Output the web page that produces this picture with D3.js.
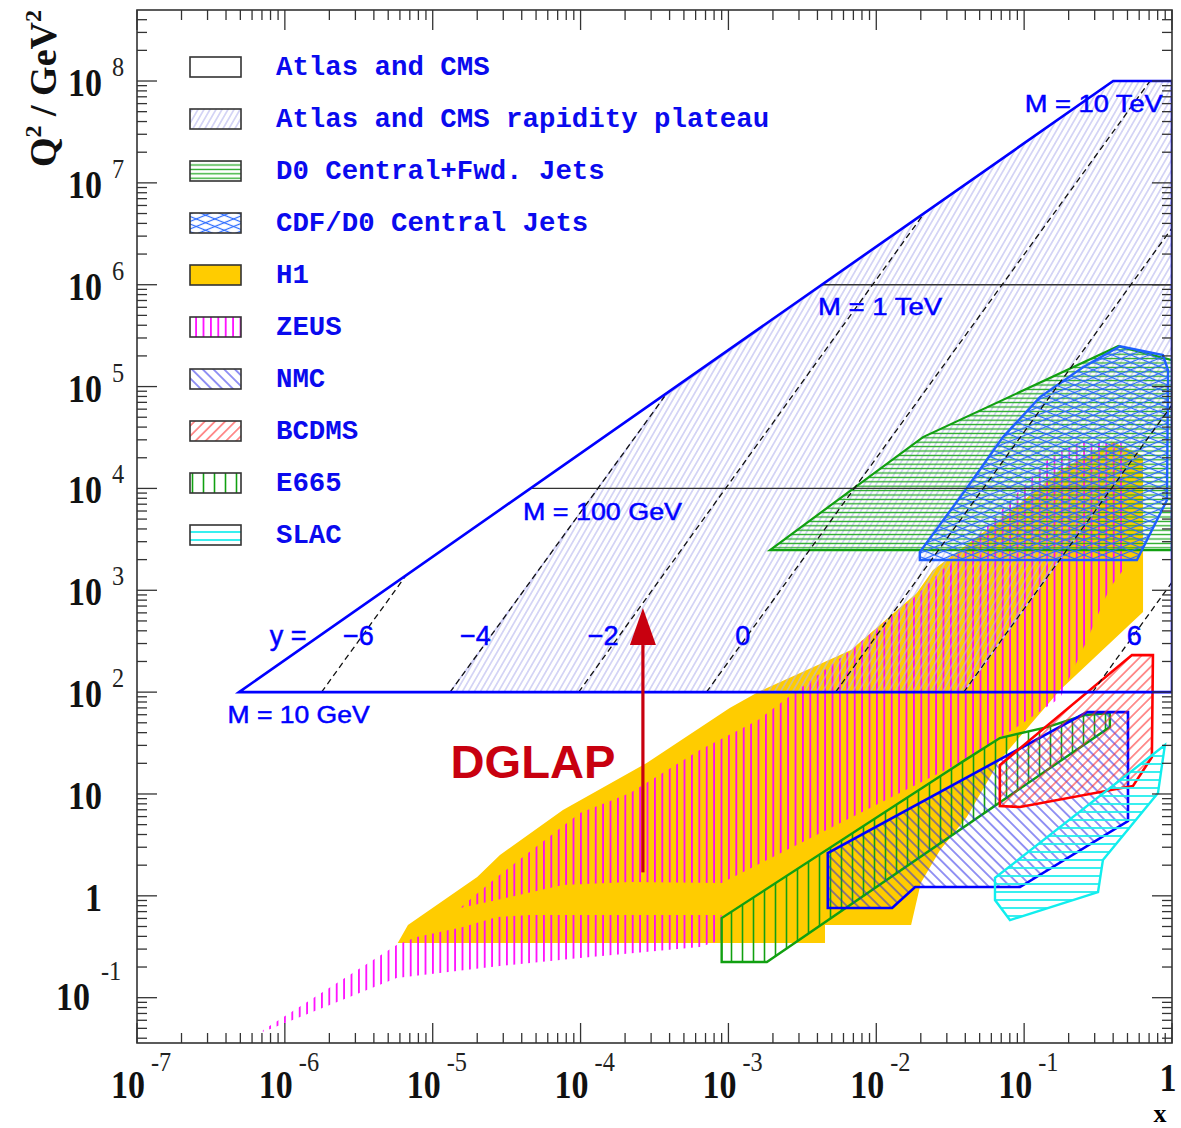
<!DOCTYPE html>
<html><head><meta charset="utf-8">
<script src="https://cdn.jsdelivr.net/npm/d3@7"></script>
<style>body{margin:0;background:#fff}</style>
</head><body>
<svg id="c" width="1181" height="1128"></svg>
<script>
// ---------- data (x, Q^2) ----------
const xTickValues = [1e-7,1e-6,1e-5,1e-4,1e-3,1e-2,1e-1,1];
const xTickBase = ["10","10","10","10","10","10","10","1"];
const xTickExp = ["-7","-6","-5","-4","-3","-2","-1",""];
const yTickValues = [0.1,1,10,100,1e3,1e4,1e5,1e6,1e7,1e8];
const yTickBase = ["10","1","10","10","10","10","10","10","10","10"];
const yTickExp = ["-1","","","2","3","4","5","6","7","8"];

const legendLabels = ["Atlas and CMS","Atlas and CMS rapidity plateau","D0 Central+Fwd. Jets",
  "CDF/D0 Central Jets","H1","ZEUS","NMC","BCDMS","E665","SLAC"];

const atlas = [[4.9e-7,100],[0.40,1e8],[1,1e8],[1,100]];
const plateau = [[1.31e-5,100],[3.7e-4,8e4],[0.40,1e8],[1,1e8],[1,6.6e4],[0.039,100]];
const massLines = [ [[4.57e-5,1e4],[1,1e4]], [[4.28e-3,1e6],[1,1e6]] ];
const rapidityLines = [
  [[1.77e-6,100],[6.6e-6,1400]],
  [[1.31e-5,100],[3.7e-4,8e4]],
  [[9.7e-5,100],[0.021,5.0e6]],
  [[7.1e-4,100],[0.71,1e8]],
  [[5.3e-3,100],[1,3.6e6]],
  [[0.039,100],[1,6.6e4]],
  [[0.29,100],[1,1200]]
];
const h1 = [[5.8e-6,0.344],[6.8e-6,0.516],[2.0e-5,1.53],[2.85e-5,2.52],[7.6e-5,6.95],[2.8e-4,20.1],
  [1.02e-3,70],[1.58e-3,100],[6.75e-3,259],[0.0188,940],[0.0242,1580],[0.0685,4890],[0.175,1.51e4],
  [0.40,2.85e4],[0.637,2.08e4],[0.637,611],[0.175,105],[0.0685,21.5],[0.041,5.94],[0.027,2.82],
  [0.020,1.34],[0.0172,0.516],[4.5e-3,0.516],[4.5e-3,0.344]];
const zeusHigh = [[1.53e-5,0.759],[2.72e-5,1.53],[9.9e-5,6.5],[2.16e-4,10.2],[6.4e-4,27],[1.58e-3,53],
  [6.75e-3,259],[0.0188,897],[0.0526,3900],[0.150,2.03e4],[0.238,2.85e4],[0.495,2.79e4],[0.495,1770],
  [0.380,1050],[0.326,640],[0.266,324],[0.175,87.5],[0.0893,45.4],[0.0398,21.5],[9.0e-4,1.34],
  [2.16e-4,1.37],[7.6e-5,1.28],[2.72e-5,0.91]];
const zeusLow = [[7.1e-7,0.048],[5.7e-6,0.329],[7.8e-6,0.394],[1.6e-5,0.494],[2.72e-5,0.619],
  [4.55e-5,0.648],[9.0e-4,0.648],[9.0e-4,0.368],[6.4e-4,0.314],[9.9e-5,0.245],[2.85e-5,0.205],
  [5.7e-6,0.156],[7.1e-7,0.046]];
const d0 = [[1.91e-3,2480],[0.0207,3.19e4],[0.432,2.49e5],[1,1.82e5],[1,2480]];
const cdf = [[0.0197,2370],[0.0197,1980],[0.579,1980],[0.925,7690],[0.94,1.45e5],[0.869,2.04e5],
  [0.445,2.49e5],[0.25,1.55e5],[0.128,7.88e4],[0.0719,3.19e4],[0.041,1.01e4]];
const e665 = [[9.0e-4,0.605],[9.0e-4,0.224],[1.82e-3,0.224],[0.380,45.4],[0.380,62.3],[0.258,59.6],
  [0.143,45.4],[0.0685,35.4],[0.0398,21.5]];
const nmc = [[4.7e-3,2.63],[4.7e-3,0.759],[0.0128,0.759],[0.0183,1.22],[0.0938,1.22],[0.504,5.42],
  [0.504,63.7],[0.266,63.7]];
const bcdms = [[0.0685,19.2],[0.0685,7.62],[0.0938,7.45],[0.545,12.0],[0.731,23.0],[0.743,231],[0.536,231]];
const slac = [[0.0635,1.50],[0.0635,0.91],[0.0802,0.578],[0.316,1.09],[0.341,2.25],[0.804,10.2],[0.895,30.2]];

const massLabels = [
  {t:"M = 10 GeV", x:4.1e-7, q:50, w:142},
  {t:"M = 100 GeV", x:4.08e-5, q:4890, w:159},
  {t:"M = 1 TeV", x:4.04e-3, q:5.03e5, w:124},
  {t:"M = 10 TeV", x:0.101, q:4.95e7, w:138}
];
const rapidityLabels = [
  {t:"y =", x:7.9e-7}, {t:"\u22126", x:2.47e-6}, {t:"\u22124", x:1.53e-5},
  {t:"\u22122", x:1.12e-4}, {t:"0", x:1.11e-3}, {t:"6", x:0.495}
];
const rapidityLabelQ2 = 290;
const dglapArrow = {x:2.64e-4, from:1.7, to:670, head:290};
const dglapLabel = {t:"DGLAP", x:1.32e-5, q:14.5};

// ---------- setup ----------
const svg = d3.select("#c");
const L=137, R=1172, T=10, B=1043;
const x = d3.scaleLog().domain([1e-7,1]).range([L,R]);
const y = d3.scaleLog().domain([0.0359,4.98e8]).range([B,T]);
const line = d3.line().x(d=>x(d[0])).y(d=>y(d[1]));
const poly = d => line(d)+"Z";

const defs = svg.append("defs");
function hatch(id, sp, ang, col, w){
  const p = defs.append("pattern").attr("id",id).attr("patternUnits","userSpaceOnUse")
    .attr("width",sp).attr("height",sp).attr("patternTransform",`rotate(${ang})`);
  p.append("line").attr("x1",sp/2).attr("x2",sp/2).attr("y1",-1).attr("y2",sp+1)
    .attr("stroke",col).attr("stroke-width",w);
}
hatch("pPlat",5.2,30,"#b4b4ee",1);
hatch("pD0",4.4,90,"#22aa22",1.3);
hatch("pCdfA",7,68,"#2a6aff",1.2);
hatch("pCdfB",7,-68,"#2a6aff",1.2);
hatch("pZeus",7.4,0,"#ff00ff",1.7);
hatch("pNmc",7.6,-45,"#2a2ae8",1);
hatch("pBcdms",7.2,45,"#ff2a2a",1);
hatch("pE665",11,0,"#11a011",1.6);
hatch("pSlac",8,90,"#22eeee",1.8);

const clip = defs.append("clipPath").attr("id","frameClip");
clip.append("rect").attr("x",L).attr("y",T).attr("width",R-L).attr("height",B-T);

const g = svg.append("g").attr("clip-path","url(#frameClip)");

// H1
g.append("path").attr("d",poly(h1)).attr("fill","#ffcc00");
// ZEUS
g.append("path").attr("d",poly(zeusHigh)).attr("fill","url(#pZeus)");
g.append("path").attr("d",poly(zeusLow)).attr("fill","url(#pZeus)");
// plateau hatch + outline
g.append("path").attr("d",poly(plateau)).attr("fill","url(#pPlat)")
  .attr("stroke","#c4c4f2").attr("stroke-width",1.5);
// D0
g.append("path").attr("d",poly(d0)).attr("fill","url(#pD0)").attr("stroke","#11a011").attr("stroke-width",2.2);
// CDF
g.append("path").attr("d",poly(cdf)).attr("fill","url(#pCdfA)");
g.append("path").attr("d",poly(cdf)).attr("fill","url(#pCdfB)").attr("stroke","#1f5fff").attr("stroke-width",2.4);
// E665
g.append("path").attr("d",poly(e665)).attr("fill","url(#pE665)").attr("stroke","#11a011").attr("stroke-width",2.4);
// NMC
g.append("path").attr("d",poly(nmc)).attr("fill","url(#pNmc)").attr("stroke","#0000ff").attr("stroke-width",2.6);
// BCDMS
g.append("path").attr("d",poly(bcdms)).attr("fill","url(#pBcdms)").attr("stroke","#ff0000").attr("stroke-width",2.6);
// SLAC
g.append("path").attr("d",poly(slac)).attr("fill","url(#pSlac)").attr("stroke","#11eeee").attr("stroke-width",2.4);

// mass lines
massLines.forEach(m=>g.append("path").attr("d",line(m)).attr("fill","none").attr("stroke","#333").attr("stroke-width",1.4));
// rapidity dashed
rapidityLines.forEach(r=>g.append("path").attr("d",line(r)).attr("fill","none")
  .attr("stroke","#111").attr("stroke-width",1.3).attr("stroke-dasharray","6,4"));
// atlas outline
g.append("path").attr("d",poly(atlas)).attr("fill","none").attr("stroke","#0000ff").attr("stroke-width",2.6);

// labels
const labFont = "'Liberation Sans', Arial, sans-serif";
massLabels.forEach(m=>svg.append("text").attr("x",x(m.x)).attr("y",y(m.q)).text(m.t)
  .attr("font-family",labFont).attr("font-size",24).attr("fill","#0000ff")
  .attr("stroke","#0000ff").attr("stroke-width",0.5)
  .attr("textLength",m.w).attr("lengthAdjust","spacingAndGlyphs"));
rapidityLabels.forEach(r=>svg.append("text").attr("x",x(r.x)).attr("y",y(rapidityLabelQ2)).text(r.t)
  .attr("font-family",labFont).attr("font-size",27).attr("fill","#0000ff")
  .attr("stroke","#0000ff").attr("stroke-width",0.5));

// DGLAP
svg.append("text").attr("x",x(dglapLabel.x)).attr("y",y(dglapLabel.q)).text(dglapLabel.t)
  .attr("font-family",labFont).attr("font-weight","bold").attr("font-size",46).attr("fill","#c8000f")
  .attr("textLength",165).attr("lengthAdjust","spacingAndGlyphs");
const ax = x(dglapArrow.x);
svg.append("line").attr("x1",ax).attr("x2",ax).attr("y1",y(dglapArrow.from)).attr("y2",y(dglapArrow.head))
  .attr("stroke","#c8000f").attr("stroke-width",3.2);
svg.append("path").attr("d",`M${ax-13},${y(dglapArrow.head)}L${ax+13},${y(dglapArrow.head)}L${ax},${y(dglapArrow.to)}Z`)
  .attr("fill","#c8000f");

// legend
const legFills = [
  [{f:"#fff"}],[{f:"url(#pPlat)"}],[{f:"url(#pD0)"}],[{f:"url(#pCdfA)"},{f:"url(#pCdfB)"}],
  [{f:"#ffcc00"}],[{f:"url(#pZeus)"}],[{f:"url(#pNmc)"}],[{f:"url(#pBcdms)"}],[{f:"url(#pE665)"}],[{f:"url(#pSlac)"}]
];
legendLabels.forEach((t,i)=>{
  const cy = 67 + i*52;
  legFills[i].forEach(s=>svg.append("rect").attr("x",190).attr("y",cy-10).attr("width",51).attr("height",20).attr("fill",s.f));
  svg.append("rect").attr("x",190).attr("y",cy-10).attr("width",51).attr("height",20)
    .attr("fill","none").attr("stroke","#333").attr("stroke-width",1.6);
  svg.append("text").attr("x",276).attr("y",cy+8).text(t)
    .attr("font-family","'Liberation Mono','Courier New',monospace").attr("font-weight","bold")
    .attr("font-size",27.4).attr("fill","#0a0aee");
});

// frame and ticks
const ax0 = svg.append("g").attr("stroke","#333").attr("stroke-width",1.3);
ax0.append("rect").attr("x",L).attr("y",T).attr("width",R-L).attr("height",B-T).attr("fill","none").attr("stroke-width",1.6);
function minorList(dom){
  const out=[]; const lo=Math.floor(Math.log10(dom[0]))-1, hi=Math.ceil(Math.log10(dom[1]));
  for(let k=lo;k<=hi;k++) for(let m=1;m<=9;m++){ const v=m*Math.pow(10,k);
    if(v>=dom[0]*0.999 && v<=dom[1]*1.001) out.push({v, major:m===1}); }
  return out;
}
minorList(x.domain()).forEach(t=>{
  const px=x(t.v), len=t.major?20:10;
  ax0.append("line").attr("x1",px).attr("x2",px).attr("y1",B).attr("y2",B-len);
  ax0.append("line").attr("x1",px).attr("x2",px).attr("y1",T).attr("y2",T+len);
});
minorList(y.domain()).forEach(t=>{
  const py=y(t.v), len=t.major?20:10;
  ax0.append("line").attr("y1",py).attr("y2",py).attr("x1",L).attr("x2",L+len);
  ax0.append("line").attr("y1",py).attr("y2",py).attr("x1",R).attr("x2",R-len);
});

const serif = "'Liberation Serif','Times New Roman',serif";
function big(txt, px, py, anchor){
  svg.append("text").attr("transform",`translate(${px},${py}) scale(0.85,1)`).attr("text-anchor",anchor)
    .attr("font-family",serif).attr("font-weight","bold").attr("font-size",40).attr("fill","#111").text(txt);
}
function sup(txt, px, py, anchor){
  svg.append("text").attr("transform",`translate(${px},${py}) scale(0.9,1)`).attr("text-anchor",anchor||"start")
    .attr("font-family",serif).attr("font-size",27).attr("fill","#222").text(txt);
}
yTickValues.forEach((v,i)=>{
  const py=y(v), e=yTickExp[i];
  if(!e){ big(yTickBase[i],102,py+15,"end"); }
  else if(e[0]==="-"){ big(yTickBase[i],90,py+12,"end"); sup(e,101,py-18); }
  else { big(yTickBase[i],102,py+15,"end"); sup(e,112,py-5); }
});
xTickValues.forEach((v,i)=>{
  const px=x(v), e=xTickExp[i];
  if(!e){ big(xTickBase[i],px-4,1091,"middle"); }
  else { big(xTickBase[i],px-9,1098,"middle"); sup(e,px+14,1071); }
});
svg.append("text").attr("x",1160).attr("y",1122).attr("text-anchor","middle")
  .attr("font-family",serif).attr("font-weight","bold").attr("font-size",26).text("x");

// y title
const yt = svg.append("text").attr("transform","translate(56,167) rotate(-90)")
  .attr("font-family",serif).attr("font-weight","bold").attr("font-size",38).attr("fill","#111");
yt.append("tspan").text("Q");
yt.append("tspan").attr("dy",-15).attr("font-size",24).text("2");
yt.append("tspan").attr("dy",15).text(" / GeV");
yt.append("tspan").attr("dy",-15).attr("font-size",24).text("2");
</script>
</body></html>
